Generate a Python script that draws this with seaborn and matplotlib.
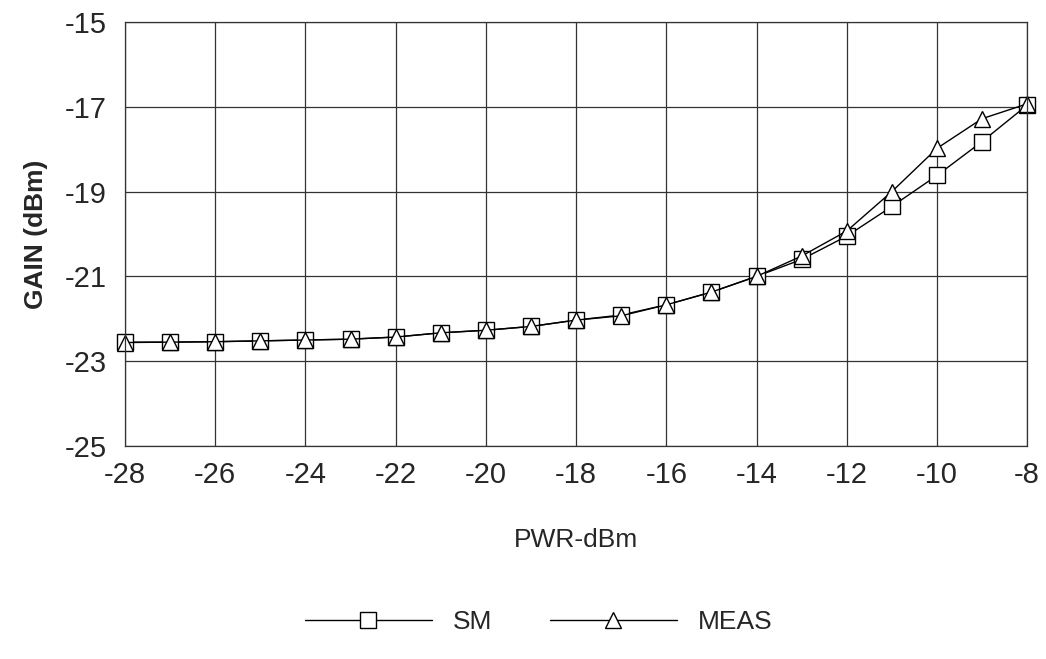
import matplotlib
matplotlib.use("Agg")
import matplotlib.pyplot as plt
import seaborn as sns
import pandas as pd

# input power (dBm)
pwr = [-28, -27, -26, -25, -24, -23, -22, -21, -20, -19,
       -18, -17, -16, -15, -14, -13, -12, -11, -10, -9, -8]
# simulated gain
sm_gain = [-22.55, -22.55, -22.54, -22.52, -22.50, -22.48, -22.43, -22.33, -22.27, -22.18,
           -22.03, -21.91, -21.67, -21.37, -21.00, -20.60, -20.05, -19.35, -18.62, -17.82, -16.96]
# measured gain
meas_gain = [-22.56, -22.55, -22.54, -22.52, -22.50, -22.48, -22.43, -22.33, -22.27, -22.18,
             -22.03, -21.93, -21.67, -21.37, -21.00, -20.52, -19.93, -19.00, -17.98, -17.28, -16.93]

sns.set_style("white")
plt.rcParams['font.family'] = ['Liberation Sans', 'DejaVu Sans']
plt.rcParams['axes.unicode_minus'] = False

fig = plt.figure(figsize=(10.46, 6.59), dpi=100)
ax = fig.add_axes([0.1195, 0.3232, 0.8625, 0.6434])

df = pd.DataFrame({"pwr": pwr, "SM": sm_gain, "MEAS": meas_gain})

sns.lineplot(data=df, x="pwr", y="SM", ax=ax, color="black", lw=1,
             marker="s", markersize=11, markerfacecolor="white",
             markeredgecolor="black", markeredgewidth=1, label="SM", clip_on=False)
sns.lineplot(data=df, x="pwr", y="MEAS", ax=ax, color="black", lw=1,
             marker="^", markersize=12, markerfacecolor="white",
             markeredgecolor="black", markeredgewidth=1, label="MEAS", clip_on=False)

ax.set_xlim(-28, -8)
ax.set_ylim(-25, -15)
ax.set_xticks(range(-28, -7, 2))
ax.set_yticks(range(-25, -14, 2))
ax.grid(True, color="#333333", lw=0.9)
for s in ax.spines.values():
    s.set_color("#333333")
    s.set_linewidth(0.9)
ax.tick_params(axis="both", labelsize=21, direction="inout", length=6, width=0.8)
ax.tick_params(axis="x", pad=8)
ax.tick_params(axis="y", pad=10)

ax.set_xlabel("PWR-dBm", fontsize=19, labelpad=28)
ax.set_ylabel("GAIN (dBm)", fontsize=19, fontweight="bold", labelpad=12)

handles, labels = ax.get_legend_handles_labels()
ax.get_legend().remove()
fig.legend(handles, labels, loc="center", bbox_to_anchor=(0.515, 0.056), ncol=2, frameon=False,
           fontsize=19, handlelength=4.8, columnspacing=2.2)

fig.savefig("out.png", dpi=100)
